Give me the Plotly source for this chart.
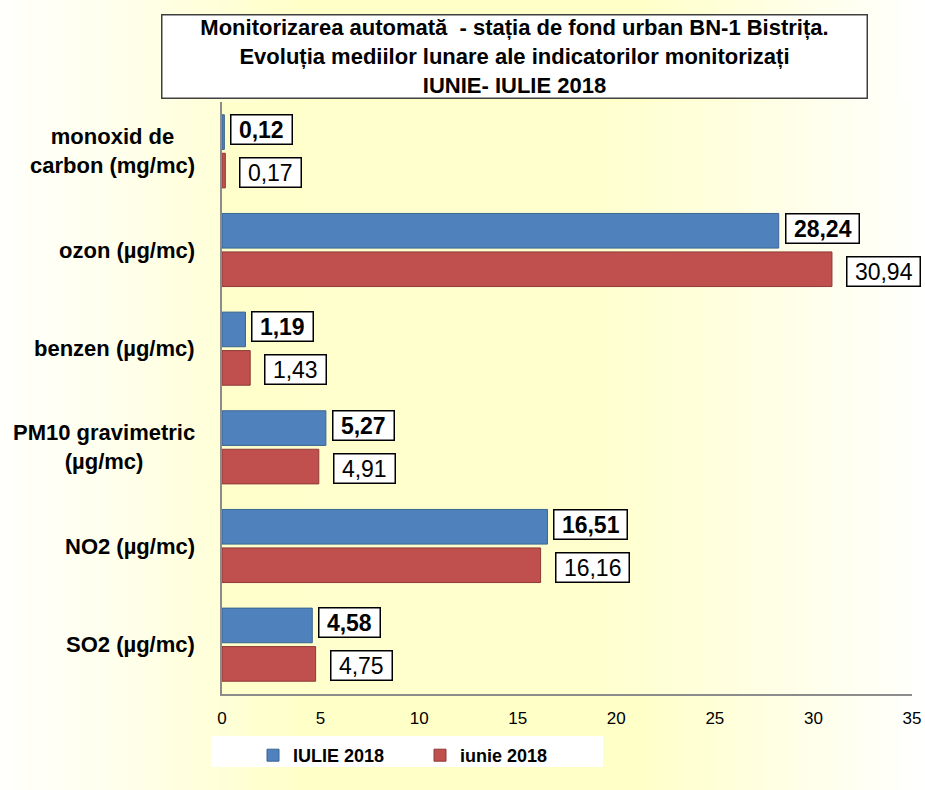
import plotly.graph_objects as go

categories = [
    "monoxid de<br>carbon (mg/mc)",
    "ozon (µg/mc)",
    "benzen (µg/mc)",
    "PM10 gravimetric<br>(µg/mc)",
    "NO2 (µg/mc)",
    "SO2 (µg/mc)",
]
iulie_2018 = [0.12, 28.24, 1.19, 5.27, 16.51, 4.58]
iunie_2018 = [0.17, 30.94, 1.43, 4.91, 16.16, 4.75]
x_ticks = [0, 5, 10, 15, 20, 25, 30, 35]

title_text = ("<b>Monitorizarea automată  - stația de fond urban BN-1 Bistrița.<br>"
              "Evoluția mediilor lunare ale indicatorilor monitorizați<br>"
              "IUNIE- IULIE 2018</b>")

W, H = 925, 790
L, R, T, B = 222, 912, 102, 694   # pixel coordinates of plot area
PW, PH = R - L, B - T


def px2x(px):
    return (px - L) / PW


def py2y(py):
    return (B - py) / PH


def fmt(v):
    return f"{v:.2f}".replace(".", ",")


FONT = "Liberation Sans, Arial, sans-serif"
BLUE = "#4F81BD"
RED = "#C0504D"

fig = go.Figure()
fig.add_trace(go.Bar(
    y=categories, x=iulie_2018, orientation="h", name="IULIE 2018",
    marker=dict(color=BLUE, line=dict(color="#3B6590", width=1)),
))
fig.add_trace(go.Bar(
    y=categories, x=iunie_2018, orientation="h", name="iunie 2018",
    marker=dict(color=RED, line=dict(color="#8E3A38", width=1)),
))

shapes = []


def lerp(a, b, t):
    return a + (b - a) * t


def paper_blue(px):
    pts = [(0, 252), (120, 236), (300, 200), (640, 200), (800, 232), (925, 255)]
    for (x0, c0), (x1, c1) in zip(pts[:-1], pts[1:]):
        if x0 <= px <= x1:
            return lerp(c0, c1, (px - x0) / (x1 - x0))
    return 255


def plot_blue(px):
    pts = [(222, 204), (600, 206), (760, 228), (912, 250)]
    for (x0, c0), (x1, c1) in zip(pts[:-1], pts[1:]):
        if x0 <= px <= x1:
            return lerp(c0, c1, (px - x0) / (x1 - x0))
    return 255


N = 80
for i in range(N):
    a = W * i / N
    b = W * (i + 1) / N
    c = int(round(paper_blue((a + b) / 2)))
    shapes.append(dict(type="rect", xref="paper", yref="paper",
                       x0=px2x(a), x1=px2x(b + 0.6), y0=py2y(H), y1=py2y(0),
                       fillcolor=f"rgb(255,255,{c})", line=dict(width=0),
                       layer="below"))
M = 60
for i in range(M):
    a = L + PW * i / M
    b = L + PW * (i + 1) / M
    c = int(round(plot_blue((a + b) / 2)))
    shapes.append(dict(type="rect", xref="paper", yref="paper",
                       x0=px2x(a), x1=px2x(b + 0.6), y0=0, y1=1,
                       fillcolor=f"rgb(255,255,{c})", line=dict(width=0),
                       layer="below"))
shapes.append(dict(type="rect", xref="paper", yref="paper",
                   x0=px2x(211), x1=px2x(603), y0=py2y(767), y1=py2y(736),
                   fillcolor="white", line=dict(width=0), layer="below"))

annotations = []
annotations.append(dict(
    text=title_text, xref="paper", yref="paper",
    x=px2x(514), y=py2y(56), xanchor="center", yanchor="middle",
    showarrow=False, align="center", width=702, height=80,
    bgcolor="white", bordercolor="#404040", borderwidth=1.5, borderpad=1,
    font=dict(family=FONT, size=22, color="black"),
))
for cat in categories:
    annotations.append(dict(
        text=f"<b>{cat}</b>", xref="paper", yref="y", x=0, y=cat,
        xanchor="right", yanchor="middle", xshift=-25, showarrow=False,
        align="center", font=dict(family=FONT, size=22, color="black"),
    ))
NB = "\u00a0"
for cat, v in zip(categories, iulie_2018):
    annotations.append(dict(
        text=f"<b>{NB}{fmt(v)}{NB}</b>", xref="x", yref="y", x=v, y=cat,
        xanchor="left", yanchor="middle", xshift=6, yshift=22,
        showarrow=False, bgcolor="white", bordercolor="black",
        borderwidth=1.5, borderpad=1,
        font=dict(family=FONT, size=23, color="black"),
    ))
for cat, v in zip(categories, iunie_2018):
    annotations.append(dict(
        text=f"{NB}{fmt(v)}{NB}", xref="x", yref="y", x=v, y=cat,
        xanchor="left", yanchor="middle", xshift=14, yshift=-21,
        showarrow=False, bgcolor="white", bordercolor="black",
        borderwidth=1.5, borderpad=1,
        font=dict(family=FONT, size=23, color="black"),
    ))

fig.update_layout(
    width=W, height=H,
    margin=dict(l=L, r=W - R, t=T, b=H - B, pad=0, autoexpand=False),
    paper_bgcolor="white", plot_bgcolor="rgba(0,0,0,0)",
    barmode="group", bargap=0.22, bargroupgap=0.1,
    font=dict(family=FONT, color="black"),
    showlegend=True,
    legend=dict(
        orientation="h", x=px2x(253), y=py2y(737), xanchor="left", yanchor="top",
        bgcolor="rgba(0,0,0,0)", entrywidth=122, entrywidthmode="pixels",
        font=dict(family=FONT, size=18, color="black", weight="bold"),
        traceorder="normal", itemwidth=30,
    ),
    shapes=shapes,
    annotations=annotations,
)
fig.update_xaxes(
    range=[0, 35], tickvals=x_ticks, ticktext=[str(t) for t in x_ticks],
    showgrid=False, zeroline=False, showline=True, linecolor="#8c8c8c", linewidth=2,
    ticks="outside", ticklen=8, tickcolor="rgba(0,0,0,0)",
    tickfont=dict(family=FONT, size=17, color="black"),
    ticklabeloverflow="allow",
)
fig.update_yaxes(
    autorange="reversed", showticklabels=False, showgrid=False, zeroline=False,
    showline=True, linecolor="#8c8c8c", linewidth=2, ticks="",
)

fig.write_html(
    "out.html",
    config={"displayModeBar": False},
    post_script="document.body.style.margin='0';document.body.style.overflow='hidden';",
)
